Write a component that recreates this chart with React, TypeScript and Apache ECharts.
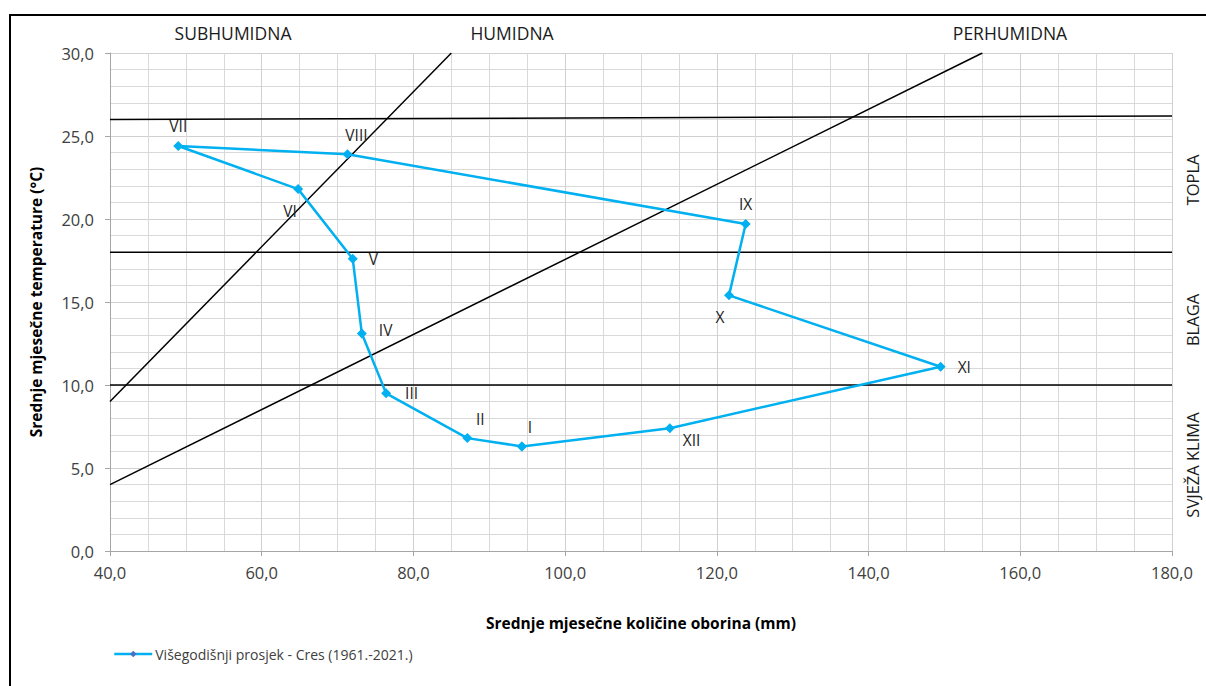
import React, { useEffect, useRef } from "react";
import * as echarts from "echarts";

const months = ["I", "II", "III", "IV", "V", "VI", "VII", "VIII", "IX", "X", "XI", "XII"];
const precipitation = [94.3, 87.1, 76.4, 73.2, 72.0, 64.8, 49.0, 71.3, 123.8, 121.6, 149.5, 113.8];
const temperature = [6.3, 6.8, 9.5, 13.1, 17.6, 21.8, 24.4, 23.9, 19.7, 15.4, 11.1, 7.4];

const seriesName = "Višegodišnji prosjek - Cres (1961.-2021.)";

// boundary lines (precipitation, temperature)
const lineSubHumid = [[40, 9], [85, 30]];
const lineHumid = [[40, 4], [155, 30]];
const lineWarm = [[40, 26.0], [180, 26.2]];
const lineMild = [[40, 18], [180, 18]];
const lineCool = [[40, 10], [180, 10]];

const topLabels = ["SUBHUMIDNA", "HUMIDNA", "PERHUMIDNA"];
const sideLabels = ["TOPLA", "BLAGA", "SVJEŽA KLIMA"];

const xTicks = { min: 40, max: 180, interval: 20 };
const yTicks = { min: 0, max: 30, interval: 5 };

const labelLayout: Record<string, any> = {
  I: { position: "top", offset: [8, 0], distance: 6 },
  II: { position: "top", offset: [13, 0], distance: 6 },
  III: { position: "right", distance: 14 },
  IV: { position: "right", offset: [0, -4], distance: 12 },
  V: { position: "right", distance: 11 },
  VI: { position: "bottom", offset: [-8, 0], distance: 9 },
  VII: { position: "top", distance: 7 },
  VIII: { position: "top", offset: [9, 0], distance: 6 },
  IX: { position: "top", distance: 7 },
  X: { position: "bottom", offset: [-9, 0], distance: 9 },
  XI: { position: "right", distance: 12 },
  XII: { position: "right", offset: [0, 12], distance: 8 },
};

const FONT = "'Open Sans', sans-serif";

export default function App() {
  const ref = useRef<HTMLDivElement>(null);
  useEffect(() => {
    if (!ref.current) return;
    const chart = echarts.init(ref.current, undefined, { renderer: "svg" });
    const mainData = months.map((m, i) => ({
      value: [precipitation[i], temperature[i]],
      name: m,
      label: { show: true, formatter: m, ...labelLayout[m] },
    }));
    mainData.push({ value: [precipitation[0], temperature[0]], name: "", label: { show: false } } as any);

    const blackLine = (data: number[][]) => ({
      type: "line",
      data,
      showSymbol: false,
      symbol: "none",
      silent: true,
      lineStyle: { color: "#000", width: 1.5 },
      z: 3,
    });

    const fmt = (v: number) => v.toFixed(1).replace(".", ",");
    const txt = (text: string, x: number, y: number, size: number, rot = 0) => ({
      type: "text",
      x,
      y,
      rotation: rot,
      style: { text, fontSize: size, fill: "#1a1a1a", align: "center", verticalAlign: "middle", fontFamily: FONT },
    });

    chart.setOption({
      animation: false,
      textStyle: { fontFamily: FONT },
      grid: { left: 110, right: 34, top: 53, bottom: 135 },
      xAxis: {
        type: "value",
        min: xTicks.min,
        max: xTicks.max,
        interval: xTicks.interval,
        name: "Srednje mjesečne količine oborina (mm)",
        nameLocation: "middle",
        nameGap: 64,
        nameTextStyle: { fontWeight: "bold", fontSize: 15.5, color: "#000", fontFamily: FONT },
        axisLine: { show: true, lineStyle: { color: "#a6a6a6" } },
        axisTick: { show: true, length: 5, lineStyle: { color: "#a6a6a6" } },
        axisLabel: { formatter: fmt, fontSize: 16.5, color: "#404040", margin: 13, fontFamily: FONT },
        splitLine: { show: true, lineStyle: { color: "#d0d0d0", width: 1 } },
        minorTick: { show: false, splitNumber: 4 },
        minorSplitLine: { show: true, lineStyle: { color: "#d9d9d9", width: 1 } },
      },
      yAxis: {
        type: "value",
        min: yTicks.min,
        max: yTicks.max,
        interval: yTicks.interval,
        name: "Srednje mjesečne temperature (°C)",
        nameLocation: "middle",
        nameGap: 66,
        nameTextStyle: { fontWeight: "bold", fontSize: 15.5, color: "#000", fontFamily: FONT },
        axisLine: { show: true, lineStyle: { color: "#a6a6a6" } },
        axisTick: { show: true, length: 5, lineStyle: { color: "#a6a6a6" } },
        axisLabel: { formatter: fmt, fontSize: 16.5, color: "#404040", margin: 16, fontFamily: FONT },
        splitLine: { show: true, lineStyle: { color: "#d0d0d0", width: 1 } },
        minorTick: { show: false, splitNumber: 5 },
        minorSplitLine: { show: true, lineStyle: { color: "#d9d9d9", width: 1 } },
      },
      legend: {
        left: 108,
        top: 642,
        itemWidth: 38,
        itemHeight: 8,
        itemGap: 5,
        data: [seriesName],
        textStyle: { fontSize: 14, color: "#404040", fontFamily: FONT, padding: [0, 0, 0, -2] },
        itemStyle: { color: "#4a6fc4" },
        lineStyle: { color: "#00b0f0", width: 2.5 },
      },
      series: [
        blackLine(lineSubHumid),
        blackLine(lineHumid),
        blackLine(lineWarm),
        blackLine(lineMild),
        blackLine(lineCool),
        {
          name: seriesName,
          type: "line",
          data: mainData,
          symbol: "diamond",
          symbolSize: 10,
          showAllSymbol: true,
          lineStyle: { color: "#00b0f0", width: 2.5 },
          itemStyle: { color: "#00b0f0" },
          label: { fontSize: 15.5, color: "#262626", fontFamily: FONT },
          z: 5,
        },
      ],
      graphic: [
        {
          type: "rect",
          shape: { x: 10, y: 15, width: 1300, height: 800 },
          style: { fill: "none", stroke: "#000", lineWidth: 2 },
          silent: true,
        },
        txt(topLabels[0], 233, 33, 17.5),
        txt(topLabels[1], 512, 33, 17.5),
        txt(topLabels[2], 1010, 33, 17.5),
        txt(sideLabels[0], 1192, 180, 16.5, Math.PI / 2),
        txt(sideLabels[1], 1192, 320, 16.5, Math.PI / 2),
        txt(sideLabels[2], 1192, 465, 16.5, Math.PI / 2),
      ],
    });
    return () => chart.dispose();
  }, []);
  return (
    <div
      ref={ref}
      style={{ position: "fixed", left: 0, top: 0, width: 1206, height: 686, background: "#fff" }}
    />
  );
}
